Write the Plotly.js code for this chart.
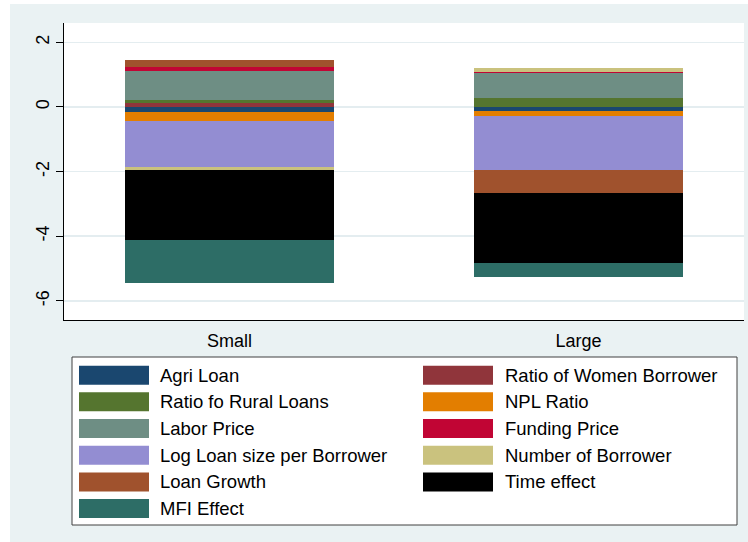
<!DOCTYPE html>
<html><head><meta charset="utf-8">
<script src="https://cdn.plot.ly/plotly-3.0.1.min.js"></script>
<style>html,body{margin:0;padding:0;background:#fff}#chart{width:748px;height:542px}</style>
</head><body><div id="chart"></div>
<script>
const categories = ['Small', 'Large'];
const seriesNames = ['Agri Loan', 'Ratio of Women Borrower', 'Ratio fo Rural Loans', 'NPL Ratio',
  'Labor Price', 'Funding Price', 'Log Loan size per Borrower', 'Number of Borrower',
  'Loan Growth', 'Time effect', 'MFI Effect'];
const seriesColors = ['#1a476f', '#90353b', '#55752f', '#e37e00', '#6e8e84', '#c10534',
  '#938dd2', '#cac27e', '#a0522d', '#000000', '#2d6d66'];
const agriLoan = [-0.155, -0.124];
const womenBorrower = [0.124, 0.0];
const ruralLoans = [0.093, 0.279];
const nplRatio = [-0.279, -0.144];
const laborPrice = [0.898, 0.774];
const fundingPrice = [0.124, 0.031];
const logLoanSize = [-1.424, -1.682];
const numBorrower = [-0.093, 0.124];
const loanGrowth = [0.217, -0.712];
const timeEffect = [-2.167, -2.167];
const mfiEffect = [-1.341, -0.433];
const yTicks = [-6, -4, -2, 0, 2];

const seriesValues = [agriLoan, womenBorrower, ruralLoans, nplRatio, laborPrice, fundingPrice,
  logLoanSize, numBorrower, loanGrowth, timeEffect, mfiEffect];

const W = 748, H = 542;
const M = {l: 64, r: 4, t: 23, b: 222};
const PW = W - M.l - M.r, PH = H - M.t - M.b;
const px = x => (x - M.l) / PW;
const py = y => (H - M.b - y) / PH;

const traces = seriesNames.map((name, i) => ({
  type: 'bar', name: name, x: categories, y: seriesValues[i], width: 0.6,
  marker: {color: seriesColors[i], line: {width: 0}}, showlegend: false,
  hovertemplate: name + ': %{y}<extra></extra>'
}));

const shapes = [
  {type: 'rect', xref: 'paper', yref: 'paper', x0: px(0), x1: px(10), y0: py(H), y1: py(0),
   fillcolor: '#ffffff', line: {width: 0}, layer: 'below'},
  {type: 'rect', xref: 'paper', yref: 'paper', x0: px(0), x1: px(W), y0: py(4), y1: py(0),
   fillcolor: '#ffffff', line: {width: 0}, layer: 'below'},
  {type: 'line', xref: 'paper', yref: 'y', x0: 0, x1: 1, y0: 0, y1: 0,
   line: {color: '#c4304e', width: 2}, layer: 'below'},
  {type: 'rect', xref: 'paper', yref: 'paper', x0: px(72), x1: px(737), y0: py(525), y1: py(357),
   fillcolor: '#ffffff', line: {color: '#404040', width: 1}, layer: 'below'}
];
const annotations = [];
const colX = [79, 423], textX = [158, 503];
const rowTop0 = 365.7, rowPitch = 26.67, swH = 19, swW = 70;
seriesNames.forEach((name, i) => {
  const c = i % 2, r = Math.floor(i / 2);
  const top = rowTop0 + r * rowPitch;
  shapes.push({type: 'rect', xref: 'paper', yref: 'paper',
    x0: px(colX[c]), x1: px(colX[c] + swW), y0: py(top + swH), y1: py(top),
    fillcolor: seriesColors[i], line: {width: 0}, layer: 'above'});
  annotations.push({xref: 'paper', yref: 'paper', x: px(textX[c]), y: py(top + swH / 2),
    xanchor: 'left', yanchor: 'middle', showarrow: false, text: name,
    font: {size: 18.5, color: '#000000', family: 'Liberation Sans, Arial, sans-serif'}});
});

const layout = {
  width: W, height: H,
  margin: M,
  paper_bgcolor: '#eaf2f3', plot_bgcolor: '#ffffff',
  barmode: 'relative', bargap: 0,
  font: {family: 'Liberation Sans, Arial, sans-serif', size: 18, color: '#000000'},
  xaxis: {type: 'category', range: [-0.474, 1.474], showgrid: false, zeroline: false,
    showline: true, linecolor: '#000000', linewidth: 1, ticks: '', ticklabelstandoff: 4,
    tickfont: {size: 18}, fixedrange: true},
  yaxis: {range: [-6.594, 2.60], tickvals: yTicks, ticktext: yTicks.map(String),
    tickangle: -90, ticks: 'outside', ticklen: 7, tickwidth: 1, tickcolor: '#000000',
    showline: true, linecolor: '#000000', linewidth: 1, zeroline: false,
    showgrid: true, gridcolor: '#e4edf0', gridwidth: 1.5, tickfont: {size: 18},
    fixedrange: true},
  shapes: shapes, annotations: annotations, showlegend: false
};
Plotly.newPlot('chart', traces, layout, {displayModeBar: false, staticPlot: true});
</script>
</body></html>
